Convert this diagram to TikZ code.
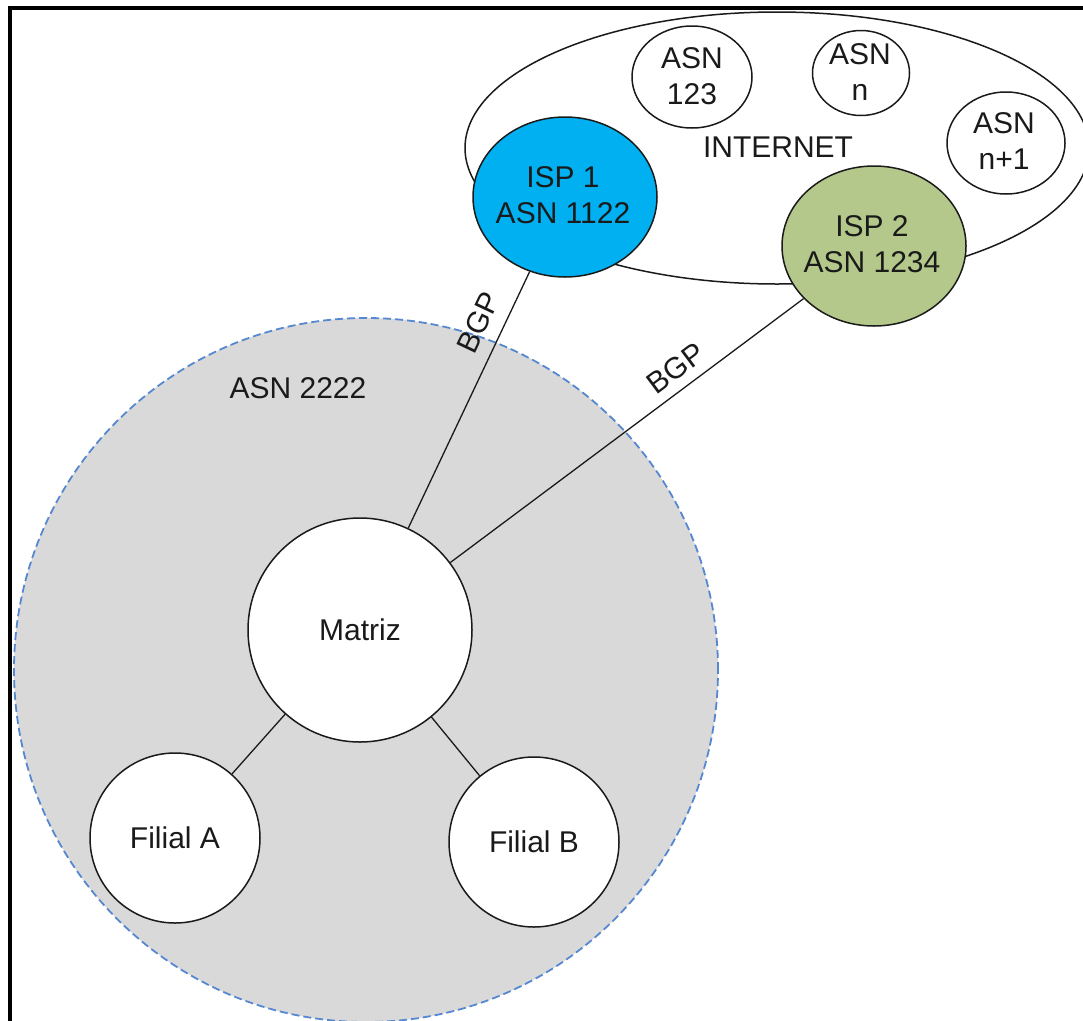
\documentclass[tikz,border=0pt]{standalone}
\usepackage{fontspec}
\setmainfont{Liberation Sans}
\usetikzlibrary{shapes.geometric}
\definecolor{ispblue}{HTML}{00B0F0}
\definecolor{ispgreen}{HTML}{B3C88A}
\definecolor{asgray}{HTML}{D9D9D9}
\definecolor{dashblue}{HTML}{5588D0}
\definecolor{ink}{HTML}{1A1A1A}
\begin{document}
\begin{tikzpicture}[x=1pt,y=-1pt,
  every node/.style={font=\fontsize{30}{36}\selectfont, text=ink},
  bubble/.style={draw=ink, line width=1.5pt, fill=white, circle, inner sep=0pt},
  oval/.style={draw=ink, line width=1.5pt, fill=white, ellipse, inner sep=0pt},
  txt/.style={align=center, inner sep=0pt},
  link/.style={draw=ink, line width=1.3pt},
  bgp/.style={sloped, inner sep=2pt}]
\useasboundingbox (0,0) rectangle (1083,1020);
\fill[white] (0,0) rectangle (1083,1020);
% AS 2222 domain
\node[circle, minimum size=704pt, fill=asgray, draw=dashblue, dash pattern=on 8pt off 4pt, line width=1.8pt, inner sep=0pt] (as2222) at (366,670) {};
\node[txt] (as2222text) at (298,388) {ASN 2222};
% Internet
\node[oval, minimum width=624pt, minimum height=272pt] (internet) at (777,148) {};
\node[txt] (inettext) at (778,147) {INTERNET};
\node[oval, minimum width=120pt, minimum height=102pt] (asn123) at (692,77) {};
\node[txt] (asn123text) at (692,76) {ASN\\123};
\node[oval, minimum width=97pt, minimum height=85pt] (asnn) at (861,73) {};
\node[txt] (asnntext) at (860,72) {ASN\\n};
\node[oval, minimum width=118pt, minimum height=102pt] (asnn1) at (1006,143) {};
\node[txt] (asnn1text) at (1004,141) {ASN\\n+1};
\node[oval, minimum width=184pt, minimum height=160pt, fill=ispblue] (isp1) at (565,197) {};
\node[txt] (isp1text) at (563,195) {ISP 1\\ASN 1122};
\node[oval, minimum width=184pt, minimum height=160pt, fill=ispgreen] (isp2) at (874,246) {};
\node[txt] (isp2text) at (872,244) {ISP 2\\ASN 1234};
% Sites
\node[bubble, minimum size=224pt] (matriz) at (360,630) {};
\node[txt] (matriztext) at (360,630) {Matriz};
\node[bubble, minimum size=170pt] (filialA) at (175,838) {};
\node[txt] (filialAtext) at (175,838) {Filial A};
\node[bubble, minimum size=170pt] (filialB) at (534,842) {};
\node[txt] (filialBtext) at (534,842) {Filial B};
% Connectors
\draw[link] (isp1) -- node[bgp, pos=0.24, above=11pt] (bgp1) {BGP} (matriz);
\draw[link] (isp2) -- node[bgp, pos=0.327, above=7pt] (bgp2) {BGP} (matriz);
\draw[link] (matriz) -- (filialA);
\draw[link] (matriz) -- (filialB);
% Frame
\draw[line width=4pt, line join=miter] (10,1040) -- (10,8) -- (1100,8);
\end{tikzpicture}
\end{document}
